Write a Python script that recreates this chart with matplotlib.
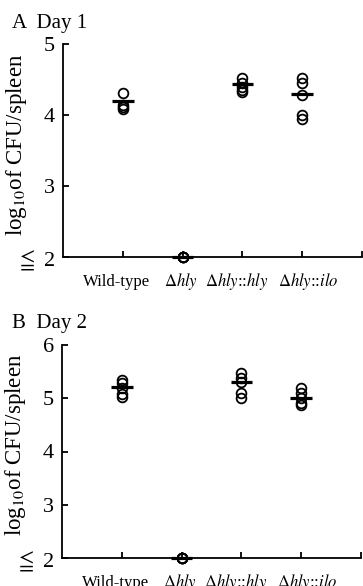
import matplotlib
matplotlib.use("Agg")
import matplotlib.pyplot as plt

plt.rcParams['font.family'] = ['Liberation Serif', 'DejaVu Serif']
plt.rcParams['mathtext.fontset'] = 'stix'

strains = [r'Wild-type', r'$\Delta\mathit{hly}$', r'$\Delta\mathit{hly}$::$\mathit{hly}$', r'$\Delta\mathit{hly}$::$\mathit{ilo}$']

day1_wt = [4.32, 4.14, 4.11, 4.09]
day1_dhly = [2.0, 2.0, 2.0, 2.0]
day1_comp = [4.52, 4.46, 4.40, 4.35, 4.33]
day1_ilo = [4.52, 4.45, 4.28, 4.00, 3.95]
day1_means = [4.20, 2.0, 4.44, 4.30]

day2_wt = [5.35, 5.28, 5.20, 5.08, 5.02]
day2_dhly = [2.0, 2.0, 2.0, 2.0]
day2_comp = [5.48, 5.38, 5.30, 5.10, 5.00]
day2_ilo = [5.20, 5.10, 5.00, 4.92, 4.87]
day2_means = [5.22, 2.0, 5.30, 5.01]

ticks_a = [2, 3, 4, 5]
ticks_b = [2, 3, 4, 5, 6]

W, H = 363, 586
fig = plt.figure(figsize=(W / 100, H / 100), dpi=100)

# label centre offsets (layout only), relative to each category position
label_shift = [-0.10, -0.03, -0.09, 0.10]

def panel(rect, groups, means, yticks, title, title_y):
    ax = fig.add_axes(rect)
    for i, vals in enumerate(groups):
        x = i + 1
        ax.plot([x] * len(vals), vals, linestyle='none', marker='o', markersize=7,
                markerfacecolor='none', markeredgecolor='black', markeredgewidth=1.3,
                clip_on=False, zorder=3)
        ax.hlines(means[i], x - 0.18, x + 0.18, color='black', linewidth=2.3, zorder=4, clip_on=False)
    ax.set_xlim(0, 5)
    ax.set_ylim(yticks[0], yticks[-1])
    ax.set_yticks(yticks)
    ax.set_yticklabels([r'$\leqq$ 2'] + [str(t) for t in yticks[1:]], fontsize=16)
    ax.set_xticks([1, 2, 3, 4, 5])
    ax.set_xticklabels([])
    ax.set_xticks([i + 1 + s for i, s in enumerate(label_shift)], minor=True)
    ax.set_xticklabels(strains, minor=True, fontsize=12)
    for lbl in ax.get_xticklabels(minor=True):
        lbl.set_verticalalignment('baseline')
    ax.tick_params(axis='both', which='major', direction='in', length=4, width=1.3, colors='black')
    ax.tick_params(axis='x', which='minor', length=0, pad=21)
    ax.tick_params(axis='y', pad=6)
    for s in ['top', 'right']:
        ax.spines[s].set_visible(False)
    for s in ['left', 'bottom']:
        ax.spines[s].set_linewidth(1.3)
    ax.set_ylabel(r'log$_{10}$of CFU/spleen', fontsize=16.5)
    ax.yaxis.set_label_coords(-0.115, 0.53)
    fig.text(12 / W, 1 - title_y / H, title, fontsize=15, ha='left', va='baseline')
    return ax

panel([63 / W, 1 - 257.3 / H, 299 / W, (257.3 - 44.3) / H],
      [day1_wt, day1_dhly, day1_comp, day1_ilo], day1_means, ticks_a, 'A  Day 1', 28)
panel([62 / W, 1 - 558 / H, 299 / W, (558 - 345) / H],
      [day2_wt, day2_dhly, day2_comp, day2_ilo], day2_means, ticks_b, 'B  Day 2', 328)

fig.savefig('out.png', dpi=100)
